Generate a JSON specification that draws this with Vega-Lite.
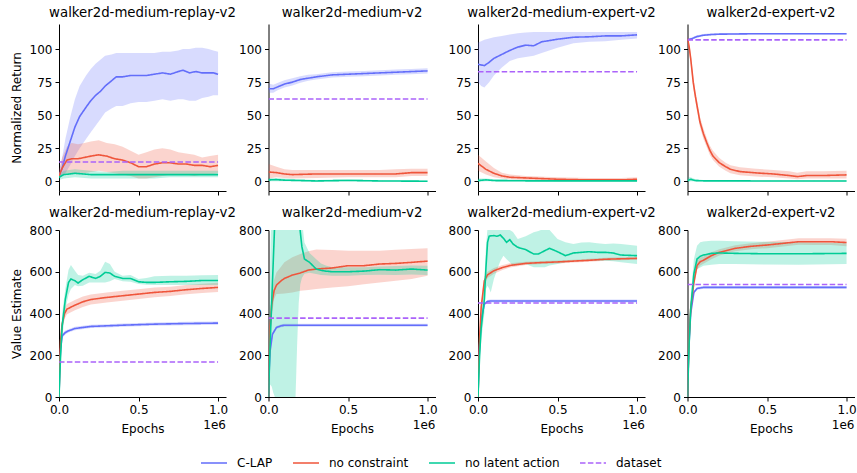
{
"$schema": "https://vega.github.io/schema/vega-lite/v6.json",
"padding": {"left": 10, "top": 5, "right": 2, "bottom": 5},
"data": {"values": [
{"panel":1,"series":"C-LAP","epoch":0,"mean":4,"lo":2,"hi":7},
{"panel":1,"series":"C-LAP","epoch":0.02,"mean":10,"lo":4,"hi":18},
{"panel":1,"series":"C-LAP","epoch":0.04,"mean":19,"lo":6,"hi":32},
{"panel":1,"series":"C-LAP","epoch":0.07,"mean":30,"lo":12,"hi":48},
{"panel":1,"series":"C-LAP","epoch":0.1,"mean":41,"lo":19,"hi":62},
{"panel":1,"series":"C-LAP","epoch":0.13,"mean":49,"lo":25,"hi":72},
{"panel":1,"series":"C-LAP","epoch":0.17,"mean":56,"lo":32,"hi":80},
{"panel":1,"series":"C-LAP","epoch":0.2,"mean":61,"lo":37,"hi":85},
{"panel":1,"series":"C-LAP","epoch":0.23,"mean":65,"lo":42,"hi":89},
{"panel":1,"series":"C-LAP","epoch":0.26,"mean":68,"lo":47,"hi":92},
{"panel":1,"series":"C-LAP","epoch":0.29,"mean":72,"lo":52,"hi":95},
{"panel":1,"series":"C-LAP","epoch":0.33,"mean":76,"lo":55,"hi":96},
{"panel":1,"series":"C-LAP","epoch":0.36,"mean":79,"lo":57,"hi":97},
{"panel":1,"series":"C-LAP","epoch":0.4,"mean":79,"lo":57,"hi":97},
{"panel":1,"series":"C-LAP","epoch":0.45,"mean":80,"lo":59,"hi":97},
{"panel":1,"series":"C-LAP","epoch":0.5,"mean":80,"lo":60,"hi":97},
{"panel":1,"series":"C-LAP","epoch":0.55,"mean":80,"lo":60,"hi":97},
{"panel":1,"series":"C-LAP","epoch":0.6,"mean":81,"lo":61,"hi":97},
{"panel":1,"series":"C-LAP","epoch":0.65,"mean":82,"lo":62,"hi":98},
{"panel":1,"series":"C-LAP","epoch":0.7,"mean":81,"lo":61,"hi":98},
{"panel":1,"series":"C-LAP","epoch":0.75,"mean":83,"lo":62,"hi":99},
{"panel":1,"series":"C-LAP","epoch":0.78,"mean":84,"lo":62,"hi":100},
{"panel":1,"series":"C-LAP","epoch":0.82,"mean":82,"lo":61,"hi":100},
{"panel":1,"series":"C-LAP","epoch":0.86,"mean":83,"lo":61,"hi":101},
{"panel":1,"series":"C-LAP","epoch":0.9,"mean":82,"lo":63,"hi":101},
{"panel":1,"series":"C-LAP","epoch":0.94,"mean":82,"lo":64,"hi":100},
{"panel":1,"series":"C-LAP","epoch":0.97,"mean":82,"lo":65,"hi":99},
{"panel":1,"series":"C-LAP","epoch":1.0,"mean":81,"lo":65,"hi":98},
{"panel":1,"series":"no constraint","epoch":0,"mean":4,"lo":2,"hi":8},
{"panel":1,"series":"no constraint","epoch":0.02,"mean":10,"lo":4,"hi":18},
{"panel":1,"series":"no constraint","epoch":0.05,"mean":16,"lo":6,"hi":26},
{"panel":1,"series":"no constraint","epoch":0.08,"mean":17,"lo":6,"hi":29},
{"panel":1,"series":"no constraint","epoch":0.12,"mean":17,"lo":5,"hi":28},
{"panel":1,"series":"no constraint","epoch":0.16,"mean":18,"lo":6,"hi":29},
{"panel":1,"series":"no constraint","epoch":0.2,"mean":19,"lo":7,"hi":30},
{"panel":1,"series":"no constraint","epoch":0.25,"mean":20,"lo":8,"hi":31},
{"panel":1,"series":"no constraint","epoch":0.3,"mean":19,"lo":7,"hi":29},
{"panel":1,"series":"no constraint","epoch":0.35,"mean":17,"lo":6,"hi":28},
{"panel":1,"series":"no constraint","epoch":0.4,"mean":16,"lo":5,"hi":26},
{"panel":1,"series":"no constraint","epoch":0.45,"mean":14,"lo":4,"hi":23},
{"panel":1,"series":"no constraint","epoch":0.5,"mean":11,"lo":2,"hi":20},
{"panel":1,"series":"no constraint","epoch":0.55,"mean":11,"lo":2,"hi":22},
{"panel":1,"series":"no constraint","epoch":0.6,"mean":13,"lo":3,"hi":24},
{"panel":1,"series":"no constraint","epoch":0.65,"mean":14,"lo":4,"hi":25},
{"panel":1,"series":"no constraint","epoch":0.7,"mean":14,"lo":5,"hi":24},
{"panel":1,"series":"no constraint","epoch":0.75,"mean":13,"lo":5,"hi":22},
{"panel":1,"series":"no constraint","epoch":0.8,"mean":13,"lo":5,"hi":21},
{"panel":1,"series":"no constraint","epoch":0.85,"mean":12,"lo":4,"hi":20},
{"panel":1,"series":"no constraint","epoch":0.9,"mean":12,"lo":5,"hi":18},
{"panel":1,"series":"no constraint","epoch":0.95,"mean":11,"lo":5,"hi":19},
{"panel":1,"series":"no constraint","epoch":1.0,"mean":12,"lo":6,"hi":20},
{"panel":1,"series":"no latent action","epoch":0,"mean":3,"lo":1,"hi":5},
{"panel":1,"series":"no latent action","epoch":0.03,"mean":5,"lo":2,"hi":8},
{"panel":1,"series":"no latent action","epoch":0.1,"mean":6,"lo":3,"hi":9},
{"panel":1,"series":"no latent action","epoch":0.2,"mean":5,"lo":2,"hi":8},
{"panel":1,"series":"no latent action","epoch":0.3,"mean":5,"lo":2,"hi":7},
{"panel":1,"series":"no latent action","epoch":0.4,"mean":5,"lo":2,"hi":8},
{"panel":1,"series":"no latent action","epoch":0.5,"mean":5,"lo":2,"hi":8},
{"panel":1,"series":"no latent action","epoch":0.6,"mean":5,"lo":2,"hi":8},
{"panel":1,"series":"no latent action","epoch":0.7,"mean":5,"lo":3,"hi":8},
{"panel":1,"series":"no latent action","epoch":0.8,"mean":5,"lo":3,"hi":8},
{"panel":1,"series":"no latent action","epoch":0.9,"mean":5,"lo":3,"hi":8},
{"panel":1,"series":"no latent action","epoch":1.0,"mean":5,"lo":3,"hi":8},
{"panel":1,"series":"dataset","epoch":0,"mean":14.6},
{"panel":1,"series":"dataset","epoch":1.0,"mean":14.6},

{"panel":2,"series":"C-LAP","epoch":0,"mean":70,"lo":67,"hi":74},
{"panel":2,"series":"C-LAP","epoch":0.03,"mean":70,"lo":67,"hi":73},
{"panel":2,"series":"C-LAP","epoch":0.06,"mean":71.5,"lo":69,"hi":74.5},
{"panel":2,"series":"C-LAP","epoch":0.1,"mean":73.5,"lo":71,"hi":76.5},
{"panel":2,"series":"C-LAP","epoch":0.15,"mean":75,"lo":72.5,"hi":78},
{"panel":2,"series":"C-LAP","epoch":0.2,"mean":77,"lo":74.5,"hi":79.5},
{"panel":2,"series":"C-LAP","epoch":0.25,"mean":78,"lo":76,"hi":80.5},
{"panel":2,"series":"C-LAP","epoch":0.3,"mean":79,"lo":77,"hi":81},
{"panel":2,"series":"C-LAP","epoch":0.4,"mean":80.5,"lo":78.5,"hi":82.5},
{"panel":2,"series":"C-LAP","epoch":0.5,"mean":81,"lo":79,"hi":83},
{"panel":2,"series":"C-LAP","epoch":0.6,"mean":81.5,"lo":79.5,"hi":83.5},
{"panel":2,"series":"C-LAP","epoch":0.7,"mean":82,"lo":80,"hi":84},
{"panel":2,"series":"C-LAP","epoch":0.8,"mean":82.5,"lo":80.5,"hi":84.5},
{"panel":2,"series":"C-LAP","epoch":0.9,"mean":83,"lo":81,"hi":85},
{"panel":2,"series":"C-LAP","epoch":1.0,"mean":83.5,"lo":81.5,"hi":85.5},
{"panel":2,"series":"no constraint","epoch":0,"mean":7,"lo":2,"hi":13},
{"panel":2,"series":"no constraint","epoch":0.05,"mean":6.5,"lo":3,"hi":11},
{"panel":2,"series":"no constraint","epoch":0.1,"mean":5.5,"lo":2.5,"hi":9},
{"panel":2,"series":"no constraint","epoch":0.15,"mean":5,"lo":2,"hi":8.5},
{"panel":2,"series":"no constraint","epoch":0.3,"mean":5.5,"lo":2.5,"hi":8.5},
{"panel":2,"series":"no constraint","epoch":0.5,"mean":5.5,"lo":3,"hi":8.5},
{"panel":2,"series":"no constraint","epoch":0.7,"mean":5.5,"lo":3,"hi":8.5},
{"panel":2,"series":"no constraint","epoch":0.8,"mean":5.5,"lo":3,"hi":9},
{"panel":2,"series":"no constraint","epoch":0.9,"mean":6.5,"lo":4,"hi":9.5},
{"panel":2,"series":"no constraint","epoch":1.0,"mean":6.5,"lo":4,"hi":9.5},
{"panel":2,"series":"no latent action","epoch":0,"mean":1,"lo":0,"hi":2.5},
{"panel":2,"series":"no latent action","epoch":0.05,"mean":1.2,"lo":0,"hi":2.5},
{"panel":2,"series":"no latent action","epoch":0.1,"mean":0.8,"lo":0,"hi":2},
{"panel":2,"series":"no latent action","epoch":0.2,"mean":0.5,"lo":0,"hi":1.5},
{"panel":2,"series":"no latent action","epoch":0.3,"mean":0.2,"lo":-0.3,"hi":1},
{"panel":2,"series":"no latent action","epoch":0.5,"mean":0.6,"lo":0,"hi":1.5},
{"panel":2,"series":"no latent action","epoch":0.7,"mean":0.2,"lo":-0.3,"hi":0.8},
{"panel":2,"series":"no latent action","epoch":1.0,"mean":0,"lo":-0.3,"hi":0.5},
{"panel":2,"series":"dataset","epoch":0,"mean":62.2},
{"panel":2,"series":"dataset","epoch":1.0,"mean":62.2},

{"panel":3,"series":"C-LAP","epoch":0,"mean":88.5,"lo":75,"hi":105},
{"panel":3,"series":"C-LAP","epoch":0.02,"mean":88,"lo":72,"hi":106},
{"panel":3,"series":"C-LAP","epoch":0.04,"mean":87.5,"lo":71,"hi":107},
{"panel":3,"series":"C-LAP","epoch":0.07,"mean":90,"lo":75,"hi":108},
{"panel":3,"series":"C-LAP","epoch":0.1,"mean":93,"lo":80,"hi":109},
{"panel":3,"series":"C-LAP","epoch":0.15,"mean":96,"lo":86,"hi":110},
{"panel":3,"series":"C-LAP","epoch":0.2,"mean":99,"lo":91,"hi":111},
{"panel":3,"series":"C-LAP","epoch":0.25,"mean":101.5,"lo":93,"hi":112},
{"panel":3,"series":"C-LAP","epoch":0.3,"mean":103,"lo":94,"hi":112.5},
{"panel":3,"series":"C-LAP","epoch":0.35,"mean":102.5,"lo":95,"hi":113},
{"panel":3,"series":"C-LAP","epoch":0.4,"mean":105.5,"lo":97,"hi":113},
{"panel":3,"series":"C-LAP","epoch":0.5,"mean":107.5,"lo":101,"hi":113},
{"panel":3,"series":"C-LAP","epoch":0.6,"mean":109,"lo":104.5,"hi":113},
{"panel":3,"series":"C-LAP","epoch":0.7,"mean":109.3,"lo":105.5,"hi":113},
{"panel":3,"series":"C-LAP","epoch":0.8,"mean":110,"lo":106,"hi":113},
{"panel":3,"series":"C-LAP","epoch":0.9,"mean":110,"lo":107,"hi":113},
{"panel":3,"series":"C-LAP","epoch":1.0,"mean":110.8,"lo":108,"hi":113},
{"panel":3,"series":"no constraint","epoch":0,"mean":13.5,"lo":8,"hi":20},
{"panel":3,"series":"no constraint","epoch":0.05,"mean":9,"lo":5,"hi":15},
{"panel":3,"series":"no constraint","epoch":0.1,"mean":6,"lo":3,"hi":10},
{"panel":3,"series":"no constraint","epoch":0.15,"mean":4,"lo":2,"hi":6.5},
{"panel":3,"series":"no constraint","epoch":0.2,"mean":3,"lo":1.5,"hi":5},
{"panel":3,"series":"no constraint","epoch":0.3,"mean":2.5,"lo":1,"hi":4},
{"panel":3,"series":"no constraint","epoch":0.5,"mean":1.5,"lo":0,"hi":3},
{"panel":3,"series":"no constraint","epoch":0.7,"mean":1,"lo":0,"hi":2.5},
{"panel":3,"series":"no constraint","epoch":0.9,"mean":1,"lo":0,"hi":2.5},
{"panel":3,"series":"no constraint","epoch":1.0,"mean":1.5,"lo":0,"hi":3},
{"panel":3,"series":"no latent action","epoch":0,"mean":0.5,"lo":-0.5,"hi":2},
{"panel":3,"series":"no latent action","epoch":0.05,"mean":1,"lo":0,"hi":2},
{"panel":3,"series":"no latent action","epoch":0.1,"mean":0.5,"lo":0,"hi":1.5},
{"panel":3,"series":"no latent action","epoch":0.3,"mean":0.3,"lo":0,"hi":1},
{"panel":3,"series":"no latent action","epoch":0.6,"mean":0.3,"lo":0,"hi":1},
{"panel":3,"series":"no latent action","epoch":1.0,"mean":0.3,"lo":0,"hi":1},
{"panel":3,"series":"dataset","epoch":0,"mean":82.9},
{"panel":3,"series":"dataset","epoch":1.0,"mean":82.9},

{"panel":4,"series":"C-LAP","epoch":0,"mean":107,"lo":106,"hi":108},
{"panel":4,"series":"C-LAP","epoch":0.03,"mean":108,"lo":107,"hi":109},
{"panel":4,"series":"C-LAP","epoch":0.06,"mean":109.5,"lo":108.5,"hi":110.5},
{"panel":4,"series":"C-LAP","epoch":0.1,"mean":110.5,"lo":110,"hi":111.5},
{"panel":4,"series":"C-LAP","epoch":0.15,"mean":111,"lo":110.5,"hi":112},
{"panel":4,"series":"C-LAP","epoch":0.2,"mean":111.3,"lo":110.7,"hi":112},
{"panel":4,"series":"C-LAP","epoch":0.4,"mean":111.6,"lo":111,"hi":112.2},
{"panel":4,"series":"C-LAP","epoch":0.7,"mean":111.6,"lo":111,"hi":112.2},
{"panel":4,"series":"C-LAP","epoch":1.0,"mean":111.6,"lo":111,"hi":112.2},
{"panel":4,"series":"no constraint","epoch":0,"mean":108,"lo":106,"hi":110},
{"panel":4,"series":"no constraint","epoch":0.01,"mean":102,"lo":99,"hi":105},
{"panel":4,"series":"no constraint","epoch":0.02,"mean":93,"lo":89,"hi":97},
{"panel":4,"series":"no constraint","epoch":0.036,"mean":75,"lo":71,"hi":79},
{"panel":4,"series":"no constraint","epoch":0.05,"mean":64,"lo":60,"hi":68},
{"panel":4,"series":"no constraint","epoch":0.078,"mean":45,"lo":41,"hi":49},
{"panel":4,"series":"no constraint","epoch":0.1,"mean":36,"lo":32,"hi":40},
{"panel":4,"series":"no constraint","epoch":0.12,"mean":29.5,"lo":26,"hi":33},
{"panel":4,"series":"no constraint","epoch":0.14,"mean":23.5,"lo":20,"hi":27},
{"panel":4,"series":"no constraint","epoch":0.16,"mean":19,"lo":16,"hi":23},
{"panel":4,"series":"no constraint","epoch":0.2,"mean":14,"lo":11,"hi":17.5},
{"panel":4,"series":"no constraint","epoch":0.24,"mean":11,"lo":8,"hi":14},
{"panel":4,"series":"no constraint","epoch":0.27,"mean":9,"lo":6,"hi":12},
{"panel":4,"series":"no constraint","epoch":0.33,"mean":7.3,"lo":4.5,"hi":10.5},
{"panel":4,"series":"no constraint","epoch":0.43,"mean":6.3,"lo":3.5,"hi":9.5},
{"panel":4,"series":"no constraint","epoch":0.54,"mean":5.5,"lo":3,"hi":8.5},
{"panel":4,"series":"no constraint","epoch":0.64,"mean":4.3,"lo":2,"hi":7.5},
{"panel":4,"series":"no constraint","epoch":0.69,"mean":3.5,"lo":1.5,"hi":6.5},
{"panel":4,"series":"no constraint","epoch":0.75,"mean":4.3,"lo":2,"hi":7.5},
{"panel":4,"series":"no constraint","epoch":0.85,"mean":4.3,"lo":2,"hi":7.5},
{"panel":4,"series":"no constraint","epoch":1.0,"mean":4.8,"lo":2,"hi":8},
{"panel":4,"series":"no latent action","epoch":0,"mean":0.5,"lo":-1,"hi":3},
{"panel":4,"series":"no latent action","epoch":0.02,"mean":1.5,"lo":0,"hi":3},
{"panel":4,"series":"no latent action","epoch":0.05,"mean":0.5,"lo":-0.3,"hi":1.5},
{"panel":4,"series":"no latent action","epoch":0.1,"mean":0.3,"lo":-0.3,"hi":1},
{"panel":4,"series":"no latent action","epoch":0.5,"mean":0.2,"lo":-0.3,"hi":0.7},
{"panel":4,"series":"no latent action","epoch":1.0,"mean":0.2,"lo":-0.3,"hi":0.7},
{"panel":4,"series":"dataset","epoch":0,"mean":107},
{"panel":4,"series":"dataset","epoch":1.0,"mean":107},

{"panel":5,"series":"C-LAP","epoch":0,"mean":0,"lo":0,"hi":0},
{"panel":5,"series":"C-LAP","epoch":0.005,"mean":150,"lo":140,"hi":160},
{"panel":5,"series":"C-LAP","epoch":0.01,"mean":230,"lo":220,"hi":240},
{"panel":5,"series":"C-LAP","epoch":0.02,"mean":293,"lo":283,"hi":303},
{"panel":5,"series":"C-LAP","epoch":0.04,"mean":309,"lo":300,"hi":318},
{"panel":5,"series":"C-LAP","epoch":0.06,"mean":317,"lo":309,"hi":325},
{"panel":5,"series":"C-LAP","epoch":0.1,"mean":328,"lo":320,"hi":336},
{"panel":5,"series":"C-LAP","epoch":0.2,"mean":338,"lo":330,"hi":346},
{"panel":5,"series":"C-LAP","epoch":0.3,"mean":341,"lo":333,"hi":349},
{"panel":5,"series":"C-LAP","epoch":0.4,"mean":344,"lo":336,"hi":352},
{"panel":5,"series":"C-LAP","epoch":0.6,"mean":349,"lo":341,"hi":357},
{"panel":5,"series":"C-LAP","epoch":0.8,"mean":352,"lo":344,"hi":360},
{"panel":5,"series":"C-LAP","epoch":1.0,"mean":354,"lo":346,"hi":362},
{"panel":5,"series":"no constraint","epoch":0,"mean":0,"lo":0,"hi":0},
{"panel":5,"series":"no constraint","epoch":0.005,"mean":170,"lo":150,"hi":190},
{"panel":5,"series":"no constraint","epoch":0.01,"mean":270,"lo":245,"hi":295},
{"panel":5,"series":"no constraint","epoch":0.02,"mean":350,"lo":325,"hi":375},
{"panel":5,"series":"no constraint","epoch":0.035,"mean":400,"lo":375,"hi":425},
{"panel":5,"series":"no constraint","epoch":0.05,"mean":421,"lo":396,"hi":446},
{"panel":5,"series":"no constraint","epoch":0.1,"mean":440,"lo":415,"hi":465},
{"panel":5,"series":"no constraint","epoch":0.15,"mean":456,"lo":431,"hi":481},
{"panel":5,"series":"no constraint","epoch":0.2,"mean":467,"lo":443,"hi":491},
{"panel":5,"series":"no constraint","epoch":0.3,"mean":477,"lo":453,"hi":501},
{"panel":5,"series":"no constraint","epoch":0.4,"mean":485,"lo":461,"hi":509},
{"panel":5,"series":"no constraint","epoch":0.5,"mean":493,"lo":470,"hi":516},
{"panel":5,"series":"no constraint","epoch":0.6,"mean":501,"lo":478,"hi":524},
{"panel":5,"series":"no constraint","epoch":0.7,"mean":506,"lo":484,"hi":528},
{"panel":5,"series":"no constraint","epoch":0.8,"mean":514,"lo":492,"hi":536},
{"panel":5,"series":"no constraint","epoch":0.9,"mean":520,"lo":498,"hi":542},
{"panel":5,"series":"no constraint","epoch":1.0,"mean":525,"lo":503,"hi":547},
{"panel":5,"series":"no latent action","epoch":0,"mean":0,"lo":0,"hi":0},
{"panel":5,"series":"no latent action","epoch":0.01,"mean":200,"lo":150,"hi":260},
{"panel":5,"series":"no latent action","epoch":0.02,"mean":340,"lo":280,"hi":400},
{"panel":5,"series":"no latent action","epoch":0.04,"mean":469,"lo":420,"hi":520},
{"panel":5,"series":"no latent action","epoch":0.06,"mean":549,"lo":490,"hi":610},
{"panel":5,"series":"no latent action","epoch":0.075,"mean":565,"lo":517,"hi":632},
{"panel":5,"series":"no latent action","epoch":0.1,"mean":557,"lo":536,"hi":605},
{"panel":5,"series":"no latent action","epoch":0.12,"mean":546,"lo":530,"hi":585},
{"panel":5,"series":"no latent action","epoch":0.15,"mean":562,"lo":533,"hi":581},
{"panel":5,"series":"no latent action","epoch":0.19,"mean":578,"lo":549,"hi":595},
{"panel":5,"series":"no latent action","epoch":0.23,"mean":568,"lo":549,"hi":589},
{"panel":5,"series":"no latent action","epoch":0.26,"mean":578,"lo":549,"hi":605},
{"panel":5,"series":"no latent action","epoch":0.29,"mean":597,"lo":549,"hi":648},
{"panel":5,"series":"no latent action","epoch":0.32,"mean":594,"lo":555,"hi":637},
{"panel":5,"series":"no latent action","epoch":0.35,"mean":578,"lo":565,"hi":600},
{"panel":5,"series":"no latent action","epoch":0.4,"mean":568,"lo":555,"hi":581},
{"panel":5,"series":"no latent action","epoch":0.45,"mean":568,"lo":552,"hi":584},
{"panel":5,"series":"no latent action","epoch":0.5,"mean":552,"lo":541,"hi":565},
{"panel":5,"series":"no latent action","epoch":0.55,"mean":549,"lo":538,"hi":570},
{"panel":5,"series":"no latent action","epoch":0.6,"mean":549,"lo":536,"hi":578},
{"panel":5,"series":"no latent action","epoch":0.7,"mean":552,"lo":536,"hi":581},
{"panel":5,"series":"no latent action","epoch":0.8,"mean":554,"lo":536,"hi":581},
{"panel":5,"series":"no latent action","epoch":0.9,"mean":558,"lo":536,"hi":583},
{"panel":5,"series":"no latent action","epoch":1.0,"mean":558,"lo":536,"hi":584},
{"panel":5,"series":"dataset","epoch":0,"mean":168},
{"panel":5,"series":"dataset","epoch":1.0,"mean":168},

{"panel":6,"series":"C-LAP","epoch":0,"mean":0,"lo":0,"hi":0},
{"panel":6,"series":"C-LAP","epoch":0.005,"mean":140,"lo":130,"hi":150},
{"panel":6,"series":"C-LAP","epoch":0.01,"mean":220,"lo":210,"hi":230},
{"panel":6,"series":"C-LAP","epoch":0.025,"mean":301,"lo":293,"hi":309},
{"panel":6,"series":"C-LAP","epoch":0.05,"mean":333,"lo":326,"hi":340},
{"panel":6,"series":"C-LAP","epoch":0.08,"mean":341,"lo":334,"hi":348},
{"panel":6,"series":"C-LAP","epoch":0.1,"mean":344,"lo":337,"hi":351},
{"panel":6,"series":"C-LAP","epoch":0.2,"mean":344,"lo":337,"hi":351},
{"panel":6,"series":"C-LAP","epoch":0.5,"mean":344,"lo":337,"hi":351},
{"panel":6,"series":"C-LAP","epoch":1.0,"mean":344,"lo":337,"hi":351},
{"panel":6,"series":"no constraint","epoch":0,"mean":0,"lo":0,"hi":0},
{"panel":6,"series":"no constraint","epoch":0.005,"mean":200,"lo":150,"hi":250},
{"panel":6,"series":"no constraint","epoch":0.01,"mean":330,"lo":250,"hi":400},
{"panel":6,"series":"no constraint","epoch":0.02,"mean":440,"lo":380,"hi":500},
{"panel":6,"series":"no constraint","epoch":0.035,"mean":509,"lo":470,"hi":560},
{"panel":6,"series":"no constraint","epoch":0.05,"mean":536,"lo":493,"hi":597},
{"panel":6,"series":"no constraint","epoch":0.08,"mean":557,"lo":495,"hi":625},
{"panel":6,"series":"no constraint","epoch":0.1,"mean":568,"lo":496,"hi":645},
{"panel":6,"series":"no constraint","epoch":0.15,"mean":584,"lo":501,"hi":669},
{"panel":6,"series":"no constraint","epoch":0.2,"mean":594,"lo":509,"hi":685},
{"panel":6,"series":"no constraint","epoch":0.25,"mean":608,"lo":513,"hi":698},
{"panel":6,"series":"no constraint","epoch":0.3,"mean":613,"lo":517,"hi":706},
{"panel":6,"series":"no constraint","epoch":0.4,"mean":618,"lo":524,"hi":704},
{"panel":6,"series":"no constraint","epoch":0.5,"mean":629,"lo":530,"hi":701},
{"panel":6,"series":"no constraint","epoch":0.6,"mean":629,"lo":540,"hi":701},
{"panel":6,"series":"no constraint","epoch":0.7,"mean":637,"lo":549,"hi":701},
{"panel":6,"series":"no constraint","epoch":0.8,"mean":640,"lo":557,"hi":705},
{"panel":6,"series":"no constraint","epoch":0.9,"mean":645,"lo":565,"hi":709},
{"panel":6,"series":"no constraint","epoch":1.0,"mean":651,"lo":581,"hi":712},
{"panel":6,"series":"no latent action","epoch":0,"mean":0,"lo":0,"hi":0},
{"panel":6,"series":"no latent action","epoch":0.01,"mean":250,"lo":60,"hi":600},
{"panel":6,"series":"no latent action","epoch":0.02,"mean":450,"lo":50,"hi":1000},
{"panel":6,"series":"no latent action","epoch":0.03,"mean":650,"lo":20,"hi":1400},
{"panel":6,"series":"no latent action","epoch":0.04,"mean":850,"lo":0,"hi":1800},
{"panel":6,"series":"no latent action","epoch":0.06,"mean":1300,"lo":-400,"hi":3000},
{"panel":6,"series":"no latent action","epoch":0.1,"mean":1600,"lo":-600,"hi":3500},
{"panel":6,"series":"no latent action","epoch":0.14,"mean":1400,"lo":-400,"hi":3000},
{"panel":6,"series":"no latent action","epoch":0.17,"mean":1100,"lo":0,"hi":2200},
{"panel":6,"series":"no latent action","epoch":0.18,"mean":980,"lo":250,"hi":1700},
{"panel":6,"series":"no latent action","epoch":0.19,"mean":870,"lo":450,"hi":1300},
{"panel":6,"series":"no latent action","epoch":0.2,"mean":790,"lo":540,"hi":1000},
{"panel":6,"series":"no latent action","epoch":0.21,"mean":720,"lo":570,"hi":850},
{"panel":6,"series":"no latent action","epoch":0.226,"mean":661,"lo":590,"hi":740},
{"panel":6,"series":"no latent action","epoch":0.258,"mean":645,"lo":595,"hi":690},
{"panel":6,"series":"no latent action","epoch":0.3,"mean":613,"lo":589,"hi":660},
{"panel":6,"series":"no latent action","epoch":0.33,"mean":607,"lo":585,"hi":640},
{"panel":6,"series":"no latent action","epoch":0.36,"mean":603,"lo":583,"hi":630},
{"panel":6,"series":"no latent action","epoch":0.4,"mean":600,"lo":581,"hi":621},
{"panel":6,"series":"no latent action","epoch":0.5,"mean":600,"lo":581,"hi":621},
{"panel":6,"series":"no latent action","epoch":0.6,"mean":603,"lo":584,"hi":621},
{"panel":6,"series":"no latent action","epoch":0.7,"mean":610,"lo":586,"hi":625},
{"panel":6,"series":"no latent action","epoch":0.8,"mean":608,"lo":585,"hi":628},
{"panel":6,"series":"no latent action","epoch":0.9,"mean":613,"lo":587,"hi":630},
{"panel":6,"series":"no latent action","epoch":1.0,"mean":608,"lo":584,"hi":629},
{"panel":6,"series":"dataset","epoch":0,"mean":378},
{"panel":6,"series":"dataset","epoch":1.0,"mean":378},

{"panel":7,"series":"C-LAP","epoch":0,"mean":0,"lo":0,"hi":0},
{"panel":7,"series":"C-LAP","epoch":0.005,"mean":150,"lo":140,"hi":160},
{"panel":7,"series":"C-LAP","epoch":0.01,"mean":250,"lo":240,"hi":260},
{"panel":7,"series":"C-LAP","epoch":0.02,"mean":370,"lo":362,"hi":378},
{"panel":7,"series":"C-LAP","epoch":0.04,"mean":445,"lo":438,"hi":452},
{"panel":7,"series":"C-LAP","epoch":0.06,"mean":458,"lo":451,"hi":465},
{"panel":7,"series":"C-LAP","epoch":0.08,"mean":460,"lo":453,"hi":467},
{"panel":7,"series":"C-LAP","epoch":0.2,"mean":460,"lo":453,"hi":467},
{"panel":7,"series":"C-LAP","epoch":1.0,"mean":460,"lo":453,"hi":467},
{"panel":7,"series":"no constraint","epoch":0,"mean":0,"lo":0,"hi":0},
{"panel":7,"series":"no constraint","epoch":0.005,"mean":150,"lo":140,"hi":165},
{"panel":7,"series":"no constraint","epoch":0.01,"mean":280,"lo":260,"hi":300},
{"panel":7,"series":"no constraint","epoch":0.02,"mean":430,"lo":410,"hi":450},
{"panel":7,"series":"no constraint","epoch":0.04,"mean":557,"lo":537,"hi":577},
{"panel":7,"series":"no constraint","epoch":0.06,"mean":585,"lo":570,"hi":600},
{"panel":7,"series":"no constraint","epoch":0.1,"mean":605,"lo":590,"hi":618},
{"panel":7,"series":"no constraint","epoch":0.15,"mean":619,"lo":607,"hi":631},
{"panel":7,"series":"no constraint","epoch":0.2,"mean":630,"lo":620,"hi":641},
{"panel":7,"series":"no constraint","epoch":0.3,"mean":640,"lo":632,"hi":648},
{"panel":7,"series":"no constraint","epoch":0.4,"mean":644,"lo":637,"hi":651},
{"panel":7,"series":"no constraint","epoch":0.5,"mean":647,"lo":640,"hi":654},
{"panel":7,"series":"no constraint","epoch":0.6,"mean":651,"lo":644,"hi":658},
{"panel":7,"series":"no constraint","epoch":0.7,"mean":655,"lo":648,"hi":662},
{"panel":7,"series":"no constraint","epoch":0.8,"mean":660,"lo":653,"hi":667},
{"panel":7,"series":"no constraint","epoch":0.9,"mean":662,"lo":655,"hi":669},
{"panel":7,"series":"no constraint","epoch":1.0,"mean":664,"lo":657,"hi":671},
{"panel":7,"series":"no latent action","epoch":0,"mean":0,"lo":0,"hi":0},
{"panel":7,"series":"no latent action","epoch":0.01,"mean":200,"lo":150,"hi":260},
{"panel":7,"series":"no latent action","epoch":0.02,"mean":330,"lo":270,"hi":400},
{"panel":7,"series":"no latent action","epoch":0.04,"mean":469,"lo":400,"hi":560},
{"panel":7,"series":"no latent action","epoch":0.05,"mean":620,"lo":517,"hi":720},
{"panel":7,"series":"no latent action","epoch":0.06,"mean":741,"lo":533,"hi":810},
{"panel":7,"series":"no latent action","epoch":0.07,"mean":770,"lo":520,"hi":830},
{"panel":7,"series":"no latent action","epoch":0.08,"mean":772,"lo":501,"hi":840},
{"panel":7,"series":"no latent action","epoch":0.1,"mean":773,"lo":565,"hi":830},
{"panel":7,"series":"no latent action","epoch":0.12,"mean":770,"lo":610,"hi":820},
{"panel":7,"series":"no latent action","epoch":0.14,"mean":776,"lo":650,"hi":815},
{"panel":7,"series":"no latent action","epoch":0.16,"mean":760,"lo":677,"hi":810},
{"panel":7,"series":"no latent action","epoch":0.18,"mean":741,"lo":660,"hi":800},
{"panel":7,"series":"no latent action","epoch":0.2,"mean":754,"lo":645,"hi":800},
{"panel":7,"series":"no latent action","epoch":0.22,"mean":733,"lo":629,"hi":790},
{"panel":7,"series":"no latent action","epoch":0.25,"mean":717,"lo":632,"hi":757},
{"panel":7,"series":"no latent action","epoch":0.3,"mean":706,"lo":637,"hi":770},
{"panel":7,"series":"no latent action","epoch":0.35,"mean":685,"lo":621,"hi":789},
{"panel":7,"series":"no latent action","epoch":0.38,"mean":685,"lo":621,"hi":795},
{"panel":7,"series":"no latent action","epoch":0.42,"mean":701,"lo":621,"hi":808},
{"panel":7,"series":"no latent action","epoch":0.45,"mean":712,"lo":630,"hi":800},
{"panel":7,"series":"no latent action","epoch":0.5,"mean":696,"lo":637,"hi":757},
{"panel":7,"series":"no latent action","epoch":0.55,"mean":677,"lo":645,"hi":741},
{"panel":7,"series":"no latent action","epoch":0.6,"mean":690,"lo":653,"hi":733},
{"panel":7,"series":"no latent action","epoch":0.65,"mean":693,"lo":653,"hi":740},
{"panel":7,"series":"no latent action","epoch":0.7,"mean":696,"lo":653,"hi":741},
{"panel":7,"series":"no latent action","epoch":0.75,"mean":693,"lo":653,"hi":737},
{"panel":7,"series":"no latent action","epoch":0.8,"mean":693,"lo":653,"hi":733},
{"panel":7,"series":"no latent action","epoch":0.85,"mean":690,"lo":650,"hi":735},
{"panel":7,"series":"no latent action","epoch":0.9,"mean":680,"lo":645,"hi":733},
{"panel":7,"series":"no latent action","epoch":1.0,"mean":677,"lo":637,"hi":725},
{"panel":7,"series":"dataset","epoch":0,"mean":450},
{"panel":7,"series":"dataset","epoch":1.0,"mean":450},

{"panel":8,"series":"C-LAP","epoch":0,"mean":0,"lo":0,"hi":0},
{"panel":8,"series":"C-LAP","epoch":0.005,"mean":150,"lo":140,"hi":160},
{"panel":8,"series":"C-LAP","epoch":0.01,"mean":260,"lo":250,"hi":270},
{"panel":8,"series":"C-LAP","epoch":0.02,"mean":400,"lo":392,"hi":408},
{"panel":8,"series":"C-LAP","epoch":0.04,"mean":501,"lo":494,"hi":508},
{"panel":8,"series":"C-LAP","epoch":0.06,"mean":520,"lo":513,"hi":527},
{"panel":8,"series":"C-LAP","epoch":0.1,"mean":525,"lo":518,"hi":532},
{"panel":8,"series":"C-LAP","epoch":0.3,"mean":525,"lo":518,"hi":532},
{"panel":8,"series":"C-LAP","epoch":1.0,"mean":525,"lo":518,"hi":532},
{"panel":8,"series":"no constraint","epoch":0,"mean":0,"lo":0,"hi":0},
{"panel":8,"series":"no constraint","epoch":0.005,"mean":150,"lo":130,"hi":170},
{"panel":8,"series":"no constraint","epoch":0.01,"mean":280,"lo":250,"hi":310},
{"panel":8,"series":"no constraint","epoch":0.02,"mean":420,"lo":390,"hi":450},
{"panel":8,"series":"no constraint","epoch":0.04,"mean":549,"lo":520,"hi":580},
{"panel":8,"series":"no constraint","epoch":0.06,"mean":630,"lo":610,"hi":655},
{"panel":8,"series":"no constraint","epoch":0.08,"mean":648,"lo":630,"hi":668},
{"panel":8,"series":"no constraint","epoch":0.1,"mean":655,"lo":638,"hi":673},
{"panel":8,"series":"no constraint","epoch":0.15,"mean":677,"lo":660,"hi":693},
{"panel":8,"series":"no constraint","epoch":0.2,"mean":693,"lo":678,"hi":708},
{"panel":8,"series":"no constraint","epoch":0.3,"mean":712,"lo":698,"hi":727},
{"panel":8,"series":"no constraint","epoch":0.4,"mean":722,"lo":708,"hi":737},
{"panel":8,"series":"no constraint","epoch":0.5,"mean":728,"lo":713,"hi":744},
{"panel":8,"series":"no constraint","epoch":0.6,"mean":736,"lo":721,"hi":752},
{"panel":8,"series":"no constraint","epoch":0.7,"mean":744,"lo":729,"hi":760},
{"panel":8,"series":"no constraint","epoch":0.8,"mean":744,"lo":728,"hi":760},
{"panel":8,"series":"no constraint","epoch":0.9,"mean":744,"lo":728,"hi":760},
{"panel":8,"series":"no constraint","epoch":1.0,"mean":740,"lo":722,"hi":758},
{"panel":8,"series":"no latent action","epoch":0,"mean":0,"lo":0,"hi":0},
{"panel":8,"series":"no latent action","epoch":0.01,"mean":250,"lo":200,"hi":300},
{"panel":8,"series":"no latent action","epoch":0.02,"mean":420,"lo":370,"hi":480},
{"panel":8,"series":"no latent action","epoch":0.04,"mean":590,"lo":540,"hi":660},
{"panel":8,"series":"no latent action","epoch":0.06,"mean":661,"lo":613,"hi":725},
{"panel":8,"series":"no latent action","epoch":0.08,"mean":674,"lo":620,"hi":741},
{"panel":8,"series":"no latent action","epoch":0.1,"mean":680,"lo":629,"hi":745},
{"panel":8,"series":"no latent action","epoch":0.15,"mean":688,"lo":634,"hi":748},
{"panel":8,"series":"no latent action","epoch":0.2,"mean":690,"lo":637,"hi":749},
{"panel":8,"series":"no latent action","epoch":0.3,"mean":688,"lo":637,"hi":746},
{"panel":8,"series":"no latent action","epoch":0.5,"mean":686,"lo":635,"hi":744},
{"panel":8,"series":"no latent action","epoch":0.7,"mean":686,"lo":633,"hi":741},
{"panel":8,"series":"no latent action","epoch":1.0,"mean":688,"lo":637,"hi":736},
{"panel":8,"series":"dataset","epoch":0,"mean":539},
{"panel":8,"series":"dataset","epoch":1.0,"mean":539}
]},
"columns": 4,
"spacing": {"row": 39, "column": 42.5},
"bounds": "flush",
"resolve": {"scale": {"color": "shared", "strokeDash": "shared", "fill": "shared"}},
"concat": [
{"width":167,"height":167,"title":"walker2d-medium-replay-v2",
 "encoding":{"x":{"field":"epoch","type":"quantitative","scale":{"domain":[0,1.05],"nice":false,"zero":false},"axis":{"values":[0,0.5,1],"labels":false,"title":null}},
  "y":{"field":"mean","type":"quantitative","scale":{"domain":[-7.4,119],"nice":false,"zero":false},"axis":{"values":[0,25,50,75,100],"title":"Normalized Return"}}},
 "layer":[
  {"transform":[{"filter":"datum.panel == 1 && datum.series != 'dataset'"}],"mark":{"type":"area","opacity":0.25,"clip":true},
   "encoding":{"y":{"field":"lo","type":"quantitative"},"y2":{"field":"hi"},"fill":{"field":"series","type":"nominal","scale":{"domain":["C-LAP","no constraint","no latent action"],"range":["#636EFA","#EF553B","#00CC96"]},"legend":null}}},
  {"transform":[{"filter":"datum.panel == 1"}],"mark":{"type":"line","strokeWidth":1.6,"clip":true},
   "encoding":{"color":{"field":"series","type":"nominal","scale":{"domain":["C-LAP","no constraint","no latent action","dataset"],"range":["#636EFA","#EF553B","#00CC96","#AB63FA"]},"legend":{"orient":"none","legendX":141,"legendY":425,"direction":"horizontal","columns":4,"title":null}},
    "strokeDash":{"field":"series","type":"nominal","scale":{"domain":["C-LAP","no constraint","no latent action","dataset"],"range":[[1,0],[1,0],[1,0],[5.5,2.4]]},"legend":{"orient":"none","legendX":141,"legendY":425,"direction":"horizontal","columns":4,"title":null}}}}
 ]},
{"width":167,"height":167,"title":"walker2d-medium-v2",
 "encoding":{"x":{"field":"epoch","type":"quantitative","scale":{"domain":[0,1.05],"nice":false,"zero":false},"axis":{"values":[0,0.5,1],"labels":false,"title":null}},
  "y":{"field":"mean","type":"quantitative","scale":{"domain":[-7.4,119],"nice":false,"zero":false},"axis":{"values":[0,25,50,75,100],"title":null}}},
 "layer":[
  {"transform":[{"filter":"datum.panel == 2 && datum.series != 'dataset'"}],"mark":{"type":"area","opacity":0.25,"clip":true},
   "encoding":{"y":{"field":"lo","type":"quantitative"},"y2":{"field":"hi"},"fill":{"field":"series","type":"nominal","legend":null}}},
  {"transform":[{"filter":"datum.panel == 2"}],"mark":{"type":"line","strokeWidth":1.6,"clip":true},
   "encoding":{"color":{"field":"series","type":"nominal"},"strokeDash":{"field":"series","type":"nominal"}}}
 ]},
{"width":167,"height":167,"title":"walker2d-medium-expert-v2",
 "encoding":{"x":{"field":"epoch","type":"quantitative","scale":{"domain":[0,1.05],"nice":false,"zero":false},"axis":{"values":[0,0.5,1],"labels":false,"title":null}},
  "y":{"field":"mean","type":"quantitative","scale":{"domain":[-7.4,119],"nice":false,"zero":false},"axis":{"values":[0,25,50,75,100],"title":null}}},
 "layer":[
  {"transform":[{"filter":"datum.panel == 3 && datum.series != 'dataset'"}],"mark":{"type":"area","opacity":0.25,"clip":true},
   "encoding":{"y":{"field":"lo","type":"quantitative"},"y2":{"field":"hi"},"fill":{"field":"series","type":"nominal","legend":null}}},
  {"transform":[{"filter":"datum.panel == 3"}],"mark":{"type":"line","strokeWidth":1.6,"clip":true},
   "encoding":{"color":{"field":"series","type":"nominal"},"strokeDash":{"field":"series","type":"nominal"}}}
 ]},
{"width":167,"height":167,"title":"walker2d-expert-v2",
 "encoding":{"x":{"field":"epoch","type":"quantitative","scale":{"domain":[0,1.05],"nice":false,"zero":false},"axis":{"values":[0,0.5,1],"labels":false,"title":null}},
  "y":{"field":"mean","type":"quantitative","scale":{"domain":[-7.4,119],"nice":false,"zero":false},"axis":{"values":[0,25,50,75,100],"title":null}}},
 "layer":[
  {"transform":[{"filter":"datum.panel == 4 && datum.series != 'dataset'"}],"mark":{"type":"area","opacity":0.25,"clip":true},
   "encoding":{"y":{"field":"lo","type":"quantitative"},"y2":{"field":"hi"},"fill":{"field":"series","type":"nominal","legend":null}}},
  {"transform":[{"filter":"datum.panel == 4"}],"mark":{"type":"line","strokeWidth":1.6,"clip":true},
   "encoding":{"color":{"field":"series","type":"nominal"},"strokeDash":{"field":"series","type":"nominal"}}}
 ]},
{"width":167,"height":167,"title":"walker2d-medium-replay-v2",
 "encoding":{"x":{"field":"epoch","type":"quantitative","scale":{"domain":[0,1.05],"nice":false,"zero":false},"axis":{"values":[0,0.5,1],"format":".1f","title":"Epochs"}},
  "y":{"field":"mean","type":"quantitative","scale":{"domain":[0,800],"nice":false,"zero":false},"axis":{"values":[0,200,400,600,800],"title":"Value Estimate"}}},
 "layer":[
  {"transform":[{"filter":"datum.panel == 5 && datum.series != 'dataset'"}],"mark":{"type":"area","opacity":0.25,"clip":true},
   "encoding":{"y":{"field":"lo","type":"quantitative"},"y2":{"field":"hi"},"fill":{"field":"series","type":"nominal","legend":null}}},
  {"transform":[{"filter":"datum.panel == 5"}],"mark":{"type":"line","strokeWidth":1.6,"clip":true},
   "encoding":{"color":{"field":"series","type":"nominal"},"strokeDash":{"field":"series","type":"nominal"}}},
  {"transform":[{"filter":"datum.panel == 5 && datum.series == 'dataset' && datum.epoch == 1"}],"mark":{"type":"text","align":"right","baseline":"middle","dy":28,"fontSize":12,"color":"#000"},
   "encoding":{"x":{"datum":1.05},"y":{"datum":0},"text":{"value":"1e6"}}}
 ]},
{"width":167,"height":167,"title":"walker2d-medium-v2",
 "encoding":{"x":{"field":"epoch","type":"quantitative","scale":{"domain":[0,1.05],"nice":false,"zero":false},"axis":{"values":[0,0.5,1],"format":".1f","title":"Epochs"}},
  "y":{"field":"mean","type":"quantitative","scale":{"domain":[0,800],"nice":false,"zero":false},"axis":{"values":[0,200,400,600,800],"title":null}}},
 "layer":[
  {"transform":[{"filter":"datum.panel == 6 && datum.series != 'dataset'"}],"mark":{"type":"area","opacity":0.25,"clip":true},
   "encoding":{"y":{"field":"lo","type":"quantitative"},"y2":{"field":"hi"},"fill":{"field":"series","type":"nominal","legend":null}}},
  {"transform":[{"filter":"datum.panel == 6"}],"mark":{"type":"line","strokeWidth":1.6,"clip":true},
   "encoding":{"color":{"field":"series","type":"nominal"},"strokeDash":{"field":"series","type":"nominal"}}},
  {"transform":[{"filter":"datum.panel == 6 && datum.series == 'dataset' && datum.epoch == 1"}],"mark":{"type":"text","align":"right","baseline":"middle","dy":28,"fontSize":12,"color":"#000"},
   "encoding":{"x":{"datum":1.05},"y":{"datum":0},"text":{"value":"1e6"}}}
 ]},
{"width":167,"height":167,"title":"walker2d-medium-expert-v2",
 "encoding":{"x":{"field":"epoch","type":"quantitative","scale":{"domain":[0,1.05],"nice":false,"zero":false},"axis":{"values":[0,0.5,1],"format":".1f","title":"Epochs"}},
  "y":{"field":"mean","type":"quantitative","scale":{"domain":[0,800],"nice":false,"zero":false},"axis":{"values":[0,200,400,600,800],"title":null}}},
 "layer":[
  {"transform":[{"filter":"datum.panel == 7 && datum.series != 'dataset'"}],"mark":{"type":"area","opacity":0.25,"clip":true},
   "encoding":{"y":{"field":"lo","type":"quantitative"},"y2":{"field":"hi"},"fill":{"field":"series","type":"nominal","legend":null}}},
  {"transform":[{"filter":"datum.panel == 7"}],"mark":{"type":"line","strokeWidth":1.6,"clip":true},
   "encoding":{"color":{"field":"series","type":"nominal"},"strokeDash":{"field":"series","type":"nominal"}}},
  {"transform":[{"filter":"datum.panel == 7 && datum.series == 'dataset' && datum.epoch == 1"}],"mark":{"type":"text","align":"right","baseline":"middle","dy":28,"fontSize":12,"color":"#000"},
   "encoding":{"x":{"datum":1.05},"y":{"datum":0},"text":{"value":"1e6"}}}
 ]},
{"width":167,"height":167,"title":"walker2d-expert-v2",
 "encoding":{"x":{"field":"epoch","type":"quantitative","scale":{"domain":[0,1.05],"nice":false,"zero":false},"axis":{"values":[0,0.5,1],"format":".1f","title":"Epochs"}},
  "y":{"field":"mean","type":"quantitative","scale":{"domain":[0,800],"nice":false,"zero":false},"axis":{"values":[0,200,400,600,800],"title":null}}},
 "layer":[
  {"transform":[{"filter":"datum.panel == 8 && datum.series != 'dataset'"}],"mark":{"type":"area","opacity":0.25,"clip":true},
   "encoding":{"y":{"field":"lo","type":"quantitative"},"y2":{"field":"hi"},"fill":{"field":"series","type":"nominal","legend":null}}},
  {"transform":[{"filter":"datum.panel == 8"}],"mark":{"type":"line","strokeWidth":1.6,"clip":true},
   "encoding":{"color":{"field":"series","type":"nominal"},"strokeDash":{"field":"series","type":"nominal"}}},
  {"transform":[{"filter":"datum.panel == 8 && datum.series == 'dataset' && datum.epoch == 1"}],"mark":{"type":"text","align":"right","baseline":"middle","dy":28,"fontSize":12,"color":"#000"},
   "encoding":{"x":{"datum":1.05},"y":{"datum":0},"text":{"value":"1e6"}}}
 ]}
],
"config": {
 "font": "DejaVu Sans",
 "view": {"stroke": null},
 "axis": {"grid": false, "domainColor": "#000", "tickColor": "#000", "labelColor": "#000", "titleColor": "#000", "labelFontSize": 12, "titleFontSize": 12, "titleFontWeight": "normal", "tickSize": 4, "labelPadding": 3, "domainWidth": 1, "tickWidth": 1, "labelFont": "DejaVu Sans", "titleFont": "DejaVu Sans"},
 "axisX": {"labelFlush": false, "titlePadding": 8},
 "axisY": {"titlePadding": 6},
 "title": {"fontSize": 13.3, "fontWeight": "normal", "color": "#000", "offset": 5, "anchor": "middle", "font": "DejaVu Sans"},
 "legend": {"symbolType": "stroke", "symbolSize": 676, "symbolStrokeWidth": 1.6, "labelFontSize": 12, "labelColor": "#000", "labelOffset": 9, "columnPadding": 16, "labelFont": "DejaVu Sans"}
}
}
